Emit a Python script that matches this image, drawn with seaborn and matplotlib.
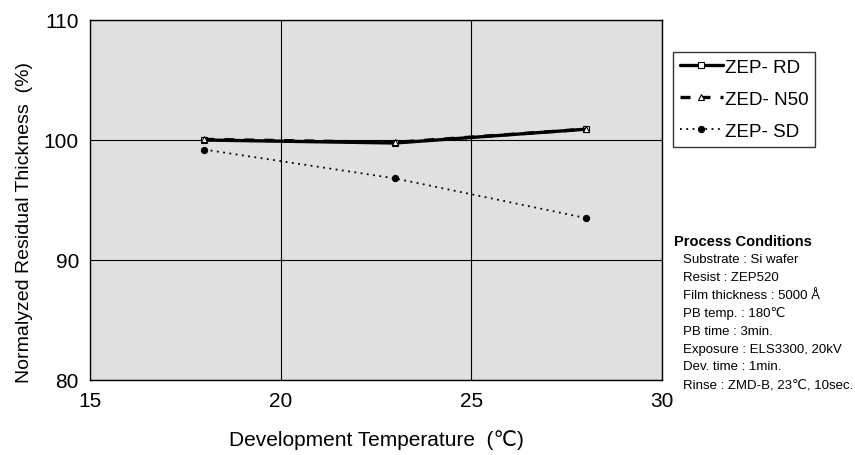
import pandas as pd
import matplotlib
matplotlib.use("Agg")
import matplotlib.pyplot as plt
import seaborn as sns

# data
temps = [18, 23, 28]
zep_rd = [100.0, 99.75, 100.9]
zed_n50 = [100.05, 99.8, 100.9]
zep_sd = [99.2, 96.8, 93.5]
series_names = ["ZEP- RD", "ZED- N50", "ZEP- SD"]
conditions = ["Substrate : Si wafer", "Resist : ZEP520", "Film thickness : 5000 Å",
              "PB temp. : 180℃", "PB time : 3min.", "Exposure : ELS3300, 20kV",
              "Dev. time : 1min.", "Rinse : ZMD-B, 23℃, 10sec."]

df = pd.DataFrame({
    "temp": temps * 3,
    "thick": zep_rd + zed_n50 + zep_sd,
    "series": [s for s in series_names for _ in temps],
})

sns.set_style("whitegrid")
plt.rcParams["font.family"] = ["Liberation Sans Narrow", "Liberation Sans", "DejaVu Sans"]
plt.rcParams["text.color"] = "black"
plt.rcParams["axes.labelcolor"] = "black"
plt.rcParams["xtick.color"] = "black"
plt.rcParams["ytick.color"] = "black"

fig = plt.figure(figsize=(8.55, 4.56), dpi=100)
ax = fig.add_axes([90/855, 1 - 381/456, 572/855, 360/456])
ax.set_facecolor("#e0e0e0")

styles = {
    "ZEP- RD": dict(linestyle="-", lw=2.4, marker="s", ms=4.5, mfc="white", mec="black", mew=0.8),
    "ZED- N50": dict(linestyle=(0, (3, 3)), lw=2.4, marker="^", ms=5, mfc="white", mec="black", mew=0.8),
    "ZEP- SD": dict(linestyle=(0, (1, 2.5)), lw=1.3, marker="o", ms=4.5, mfc="black", mec="black"),
}
for name in series_names:
    sub = df[df["series"] == name]
    sns.lineplot(data=sub, x="temp", y="thick", ax=ax, color="black", label=name, **styles[name])

ax.set_xlim(15, 30)
ax.set_ylim(80, 110)
ax.set_xticks([15, 20, 25, 30])
ax.set_yticks([80, 90, 100, 110])
ax.grid(True, color="black", lw=0.8)
for sp in ax.spines.values():
    sp.set_color("black")
    sp.set_linewidth(1.0)
ax.tick_params(labelsize=15, length=0, pad=8)
ax.set_xlabel("Development Temperature  (℃)", fontsize=15, labelpad=14)
ax.set_ylabel("Normalyzed Residual Thickness  (%)", fontsize=14)
ax.yaxis.set_label_coords(-0.10, 0.44)

leg = ax.legend(loc="upper left", bbox_to_anchor=((673 - 90)/572, 1 - (53 - 21)/360),
                frameon=True, fancybox=False, edgecolor="black", fontsize=13.5,
                handlelength=2.3, handletextpad=0.1, borderpad=0.35, labelspacing=0.8,
                borderaxespad=0)
leg.get_frame().set_linewidth(1.0)
leg.get_frame().set_facecolor("white")

fig.text(674/855, 1 - 242/456, "Process Conditions", fontsize=10.5, fontweight="bold",
         va="center", ha="left")
for i, line in enumerate(conditions):
    fig.text(683/855, 1 - (260 + i * 17.9)/456, line, fontsize=9.5, va="center", ha="left")

fig.savefig("out.png", dpi=100)
